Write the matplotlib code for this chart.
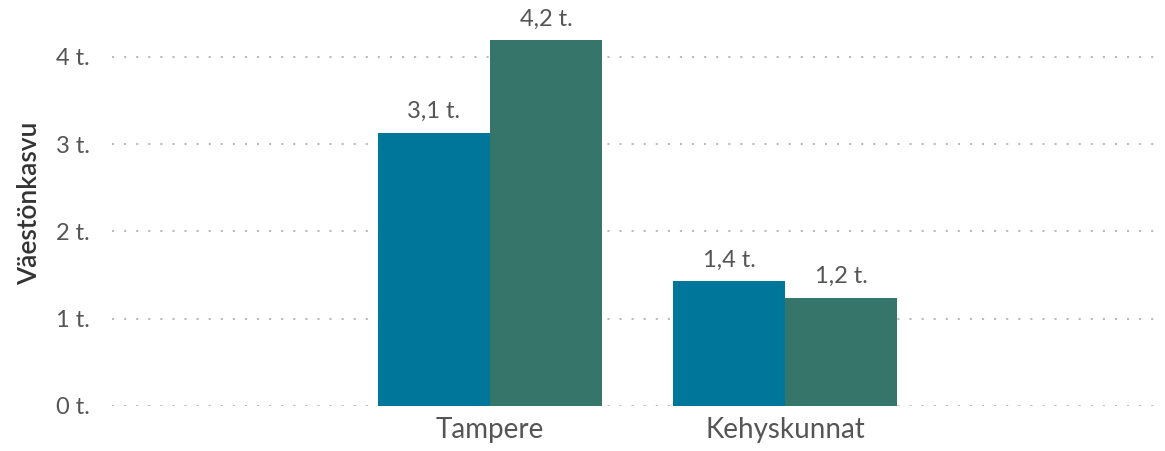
import matplotlib.pyplot as plt
import numpy as np

categories = ['Tampere', 'Kehyskunnat']
series_a = [3.13, 1.43]
series_b = [4.19, 1.24]
yticks = [0, 1, 2, 3, 4]
ytick_labels = ['0 t.', '1 t.', '2 t.', '3 t.', '4 t.']

plt.rcParams['font.family'] = ['Lato', 'DejaVu Sans']

fig = plt.figure(figsize=(11.65, 4.51), dpi=100)
ax = fig.add_axes([112 / 1165, 45 / 451, 1048 / 1165, 406 / 451])

x = np.arange(len(categories))
w = 0.38
bars_a = ax.bar(x - w / 2, series_a, w, color='#00779A')
bars_b = ax.bar(x + w / 2, series_b, w, color='#36766A')

for bars, vals in [(bars_a, series_a), (bars_b, series_b)]:
    for b, v in zip(bars, vals):
        ax.text(b.get_x() + b.get_width() / 2, v + 0.12, f'{v:.1f} t.'.replace('.', ',', 1),
                ha='center', va='bottom', fontsize=17, color='#555555')

ax.set_xlim(-1.281, 2.27)
ax.set_ylim(0, 4.65)
ax.set_yticks(yticks)
ax.set_yticklabels(ytick_labels)
ax.set_xticks(x)
ax.set_xticklabels(categories)
ax.tick_params(axis='y', length=0, pad=16, labelsize=17, labelcolor='#555555')
ax.tick_params(axis='x', length=0, pad=8, labelsize=20, labelcolor='#555555')
ax.grid(axis='y', color='#BBBBBB', linestyle=(0, (1, 4.8)), linewidth=1.5)
ax.set_axisbelow(True)
for s in ax.spines.values():
    s.set_visible(False)
ax.set_ylabel('Väestönkasvu', fontsize=19, color='#333333', fontweight='semibold', labelpad=10)

plt.savefig('out.png', dpi=100)
